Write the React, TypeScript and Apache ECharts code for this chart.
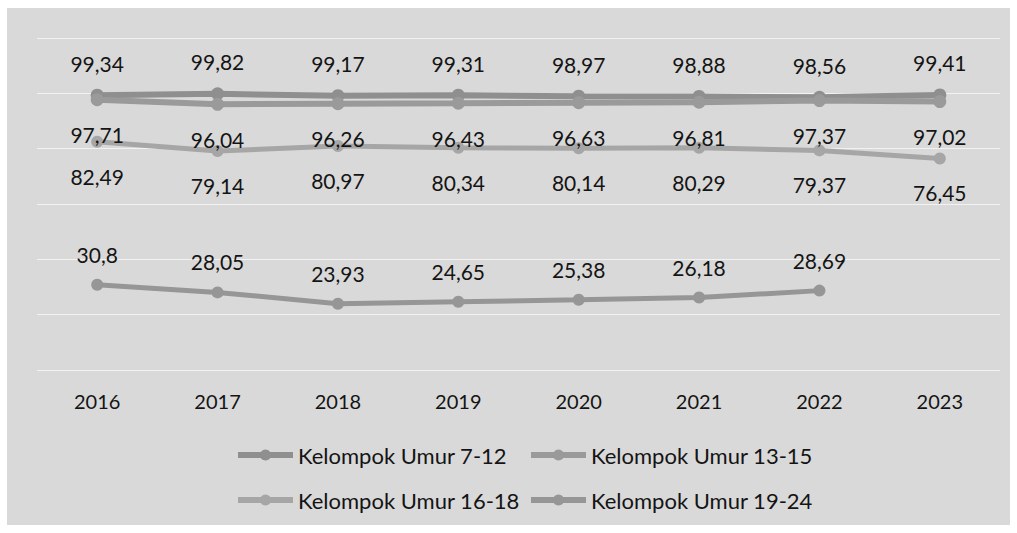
import React, { useEffect, useRef } from "react";
import * as echarts from "echarts";

const years = ["2016", "2017", "2018", "2019", "2020", "2021", "2022", "2023"];
const umur7_12 = [99.34, 99.82, 99.17, 99.31, 98.97, 98.88, 98.56, 99.41];
const umur13_15 = [97.71, 96.04, 96.26, 96.43, 96.63, 96.81, 97.37, 97.02];
const umur16_18 = [82.49, 79.14, 80.97, 80.34, 80.14, 80.29, 79.37, 76.45];
const umur19_24 = [30.8, 28.05, 23.93, 24.65, 25.38, 26.18, 28.69, null];

const names = [
  "Kelompok Umur 7-12",
  "Kelompok Umur 13-15",
  "Kelompok Umur 16-18",
  "Kelompok Umur 19-24",
];

const FONT = "Lato";
const TEXT = "#141414";

const fmt = (p: any) => String(p.value).replace(".", ",");

function mkSeries(
  name: string,
  data: (number | null)[],
  color: string,
  width: number,
  size: number,
  pos: "top" | "bottom",
  dist: number
) {
  return {
    name,
    type: "line",
    data,
    symbol: "circle",
    symbolSize: size,
    connectNulls: false,
    lineStyle: { color, width },
    itemStyle: { color },
    label: {
      show: true,
      position: pos,
      distance: dist,
      formatter: fmt,
      color: TEXT,
      fontFamily: FONT,
      fontSize: 21,
    },
  };
}

export default function App() {
  const ref = useRef<HTMLDivElement>(null);
  useEffect(() => {
    if (!ref.current) return;
    const chart = echarts.init(ref.current, null, { renderer: "svg" });
    const legendText = { color: TEXT, fontFamily: FONT, fontSize: 22 };
    const legendCommon = {
      orient: "vertical",
      top: 444,
      padding: 0,
      itemWidth: 55,
      itemHeight: 14,
      itemGap: 23,
      textStyle: legendText,
      lineStyle: { width: 6 },
    };
    chart.setOption({
      animation: false,
      backgroundColor: "#ffffff",
      graphic: [
        {
          type: "rect",
          z: -10,
          silent: true,
          shape: { x: 7, y: 8, width: 1003, height: 517 },
          style: { fill: "#d9d9d9" },
        },
      ],
      grid: { left: 37, right: 17, top: 38, bottom: 163 },
      xAxis: {
        type: "category",
        data: years,
        boundaryGap: true,
        axisLine: { show: false },
        axisTick: { show: false },
        axisLabel: {
          margin: 21,
          color: TEXT,
          fontFamily: FONT,
          fontSize: 20,
        },
      },
      yAxis: {
        type: "value",
        min: 0,
        max: 120,
        interval: 20,
        axisLabel: { show: false },
        axisLine: { show: false },
        axisTick: { show: false },
        splitLine: { lineStyle: { color: "#f2f2f2", width: 1 } },
      },
      legend: [
        { ...legendCommon, data: [names[0], names[2]], left: 235 },
        { ...legendCommon, data: [names[1], names[3]], left: 528 },
      ],
      series: [
        mkSeries(names[0], umur7_12, "#8f8f8f", 6, 13, "top", 15),
        mkSeries(names[1], umur13_15, "#9a9a9a", 6, 13, "bottom", 18),
        mkSeries(names[2], umur16_18, "#a6a6a6", 5, 12, "bottom", 18),
        mkSeries(names[3], umur19_24, "#969696", 5, 12, "top", 14),
      ],
    });
    return () => chart.dispose();
  }, []);
  return (
    <div
      ref={ref}
      style={{ position: "fixed", left: 0, top: 0, width: 1017, height: 533 }}
    />
  );
}
